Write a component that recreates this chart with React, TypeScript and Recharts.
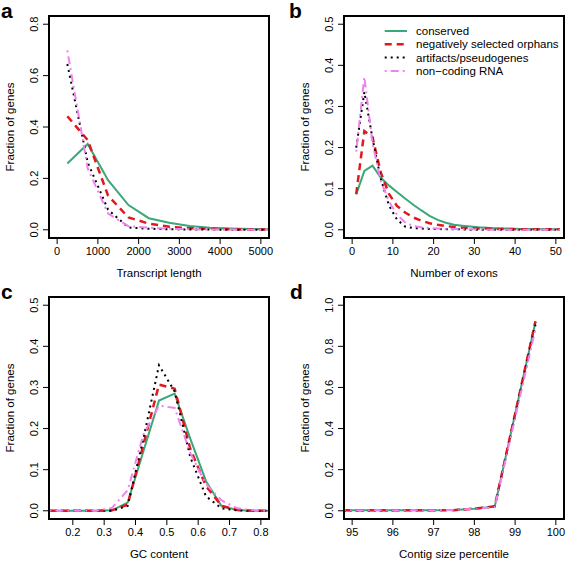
import React from "react"
import { LineChart, Line, XAxis, YAxis, Legend } from "recharts"

const FONT = '"Liberation Sans", Arial, Helvetica, sans-serif'

// series shared by all four panels
const seriesKeys = ["conserved", "orphans", "artifacts", "ncrna"]
const seriesNames = ["conserved", "negatively selected orphans", "artifacts/pseudogenes", "non\u2212coding RNA"]
const seriesColors = ["#3aa878", "#e0191f", "#000000", "#ee82ee"]
const seriesDash = ["", "7 5", "2 4", "2 4 8 4"]
const seriesWidth = [2, 2.5, 2, 2]

// a: transcript length
const lengthX = [250, 750, 1250, 1750, 2250, 2750, 3250, 3750, 4250, 4750, 5250]
const lengthConserved = [0.258, 0.334, 0.193, 0.096, 0.045, 0.027, 0.015, 0.008, 0.005, 0.003, 0.002]
const lengthOrphans = [0.442, 0.349, 0.133, 0.048, 0.024, 0.012, 0.006, 0.004, 0.002, 0.001, 0.001]
const lengthArtifacts = [0.645, 0.262, 0.078, 0.009, 0.004, 0.002, 0.001, 0.001, 0.0, 0.0, 0.0]
const lengthNcrna = [0.698, 0.239, 0.063, 0.014, 0.008, 0.004, 0.002, 0.001, 0.001, 0.0, 0.0]

// b: number of exons
const exonsX = [1, 3, 5, 7, 9, 11, 13, 15, 17, 19, 21, 23, 25, 27, 29, 31, 33, 35, 37, 39, 41, 43, 45, 47, 49, 51]
const exonsConserved = [0.086, 0.143, 0.156, 0.127, 0.108, 0.092, 0.076, 0.061, 0.047, 0.034, 0.024, 0.017, 0.012, 0.01, 0.008, 0.006, 0.005, 0.004, 0.003, 0.003, 0.002, 0.002, 0.002, 0.001, 0.001, 0.001]
const exonsOrphans = [0.087, 0.24, 0.225, 0.14, 0.088, 0.058, 0.042, 0.03, 0.022, 0.016, 0.012, 0.009, 0.007, 0.005, 0.004, 0.003, 0.003, 0.002, 0.002, 0.001, 0.001, 0.001, 0.001, 0.001, 0.001, 0.001]
const exonsArtifacts = [0.2, 0.335, 0.222, 0.125, 0.06, 0.025, 0.008, 0.004, 0.003, 0.002, 0.002, 0.001, 0.001, 0.001, 0.0, 0.0, 0.0, 0.0, 0.0, 0.0, 0.0, 0.0, 0.0, 0.0, 0.0, 0.0]
const exonsNcrna = [0.19, 0.372, 0.21, 0.12, 0.07, 0.037, 0.018, 0.009, 0.006, 0.004, 0.003, 0.002, 0.002, 0.001, 0.001, 0.001, 0.0, 0.0, 0.0, 0.0, 0.0, 0.0, 0.0, 0.0, 0.0, 0.0]

// c: GC content
const gcX = [0.125, 0.175, 0.225, 0.275, 0.325, 0.375, 0.425, 0.475, 0.525, 0.575, 0.625, 0.675, 0.725, 0.775, 0.825]
const gcConserved = [0, 0, 0, 0, 0.001, 0.02, 0.144, 0.268, 0.285, 0.175, 0.072, 0.011, 0.002, 0, 0]
const gcOrphans = [0, 0, 0, 0, 0.001, 0.015, 0.16, 0.307, 0.297, 0.15, 0.06, 0.012, 0.002, 0, 0]
const gcArtifacts = [0, 0, 0, 0, 0, 0.012, 0.175, 0.354, 0.29, 0.13, 0.035, 0.006, 0.001, 0, 0]
const gcNcrna = [0, 0, 0, 0, 0.007, 0.05, 0.185, 0.256, 0.25, 0.14, 0.065, 0.025, 0.006, 0.001, 0]

// d: contig size percentile
const contigX = [94.5, 95, 95.5, 96, 96.5, 97, 97.5, 98, 98.5, 99.5]
const contigConserved = [0.002, 0.002, 0.002, 0.002, 0.003, 0.003, 0.004, 0.01, 0.02, 0.92]
const contigOrphans = [0.002, 0.002, 0.002, 0.002, 0.002, 0.003, 0.003, 0.01, 0.022, 0.922]
const contigArtifacts = [0.001, 0.001, 0.001, 0.002, 0.002, 0.003, 0.004, 0.011, 0.02, 0.905]
const contigNcrna = [0.002, 0.002, 0.002, 0.002, 0.002, 0.003, 0.004, 0.01, 0.018, 0.885]

function rows(xs: number[], a: number[], b: number[], c: number[], d: number[]) {
  return xs.map((x, i) => ({ x, conserved: a[i], orphans: b[i], artifacts: c[i], ncrna: d[i] }))
}

function YTick(props: any) {
  const { x, y, payload } = props
  return (
    <text transform={`translate(${x - 3},${y}) rotate(-90)`} textAnchor="middle" fontSize={11} fontFamily={FONT} fill="#000">
      {Number(payload.value).toFixed(1)}
    </text>
  )
}

function XTitle({ text, cx }: any) {
  return (
    <text x={cx} y={276.5} textAnchor="middle" fontSize={11.5} fontFamily={FONT} fill="#000">
      {text}
    </text>
  )
}

function YTitle({ plotLeft, letter, letterX }: any) {
  return (
    <g>
      <text transform={`translate(${plotLeft - 35.5},127) rotate(-90)`} textAnchor="middle" fontSize={11.5} fontFamily={FONT} fill="#000">
        Fraction of genes
      </text>
      <text x={letterX} y={18} fontSize={21} fontWeight="bold" fontFamily={FONT} fill="#000">
        {letter}
      </text>
    </g>
  )
}

function LegendBox() {
  return (
    <svg width={190} height={60} style={{ display: "block" }}>
      {seriesNames.map((name, i) => {
        const cy = 9 + i * 13.3
        return (
          <g key={name}>
            <line x1={6.7} x2={29} y1={cy} y2={cy} stroke={seriesColors[i]} strokeWidth={seriesWidth[i]} strokeDasharray={seriesDash[i] || undefined} />
            <text x={38} y={cy + 4} fontSize={11.5} fontFamily={FONT} fill="#000">
              {name}
            </text>
          </g>
        )
      })}
    </svg>
  )
}

interface PanelProps {
  left: number
  top: number
  data: any[]
  xDomain: [number, number]
  yDomain: [number, number]
  xTicks: number[]
  yTicks: number[]
  xDigits: number
  xTitle: string
  letter: string
  letterX: number
  axisWidth: number
  rightGap: number
  legend?: boolean
}

function Panel(p: PanelProps) {
  const plotRight = 283 - p.rightGap
  return (
    <div style={{ position: "absolute", left: p.left, top: p.top, width: 283, height: 281 }}>
      <LineChart width={283} height={281} data={p.data} margin={{ top: 16, right: p.rightGap, bottom: 3, left: 0 }}>
        <XAxis
          type="number"
          dataKey="x"
          domain={p.xDomain}
          ticks={p.xTicks}
          interval={0}
          allowDataOverflow
          height={40}
          tickSize={6}
          tickMargin={3}
          axisLine={false}
          stroke="#000"
          tick={{ fill: "#000", fontSize: 11, fontFamily: FONT }}
          tickFormatter={(v: number) => v.toFixed(p.xDigits)}
          label={<XTitle text={p.xTitle} cx={(p.axisWidth + plotRight) / 2} />}
        />
        <YAxis
          type="number"
          domain={p.yDomain}
          ticks={p.yTicks}
          interval={0}
          allowDataOverflow
          width={p.axisWidth}
          tickSize={6}
          tickMargin={2}
          axisLine={false}
          stroke="#000"
          tick={<YTick />}
          label={<YTitle plotLeft={p.axisWidth} letter={p.letter} letterX={p.letterX} />}
        />
        {seriesKeys.map((k, i) => (
          <Line
            key={k}
            type="linear"
            dataKey={k}
            stroke={seriesColors[i]}
            strokeWidth={seriesWidth[i]}
            strokeDasharray={seriesDash[i] || undefined}
            dot={false}
            activeDot={false}
            isAnimationActive={false}
          />
        ))}
        {p.legend && (
          <Legend layout="vertical" align="center" verticalAlign="middle" wrapperStyle={{ left: 95, top: 22, width: 190 }} content={<LegendBox />} />
        )}
      </LineChart>
      {/* plot frame, as R's box() */}
      <div
        style={{
          position: "absolute",
          left: p.axisWidth - 1,
          top: 15,
          width: plotRight - p.axisWidth + 2,
          height: 224,
          border: "2px solid #000",
          boxSizing: "border-box",
          pointerEvents: "none",
        }}
      />
    </div>
  )
}

export default function App() {
  return (
    <div style={{ position: "relative", width: 566, height: 562, background: "#fff", overflow: "hidden" }}>
      <style>{`body{margin:0}`}</style>
      <Panel
        left={0}
        top={0}
        data={rows(lengthX, lengthConserved, lengthOrphans, lengthArtifacts, lengthNcrna)}
        xDomain={[-200, 5200]}
        yDomain={[-0.032, 0.832]}
        xTicks={[0, 1000, 2000, 3000, 4000, 5000]}
        yTicks={[0, 0.2, 0.4, 0.6, 0.8]}
        xDigits={0}
        xTitle="Transcript length"
        letter="a"
        letterX={1}
        axisWidth={49}
        rightGap={14}
      />
      <Panel
        left={283}
        top={0}
        data={rows(exonsX, exonsConserved, exonsOrphans, exonsArtifacts, exonsNcrna)}
        xDomain={[-2, 52]}
        yDomain={[-0.02, 0.52]}
        xTicks={[0, 10, 20, 30, 40, 50]}
        yTicks={[0, 0.1, 0.2, 0.3, 0.4, 0.5]}
        xDigits={0}
        xTitle="Number of exons"
        letter="b"
        letterX={6}
        axisWidth={61}
        rightGap={2}
        legend
      />
      <Panel
        left={0}
        top={281}
        data={rows(gcX, gcConserved, gcOrphans, gcArtifacts, gcNcrna)}
        xDomain={[0.124, 0.826]}
        yDomain={[-0.02, 0.52]}
        xTicks={[0.2, 0.3, 0.4, 0.5, 0.6, 0.7, 0.8]}
        yTicks={[0, 0.1, 0.2, 0.3, 0.4, 0.5]}
        xDigits={1}
        xTitle="GC content"
        letter="c"
        letterX={1}
        axisWidth={49}
        rightGap={14}
      />
      <Panel
        left={283}
        top={281}
        data={rows(contigX, contigConserved, contigOrphans, contigArtifacts, contigNcrna)}
        xDomain={[94.8, 100.2]}
        yDomain={[-0.04, 1.04]}
        xTicks={[95, 96, 97, 98, 99, 100]}
        yTicks={[0, 0.2, 0.4, 0.6, 0.8, 1.0]}
        xDigits={0}
        xTitle="Contig size percentile"
        letter="d"
        letterX={7}
        axisWidth={61}
        rightGap={2}
      />
    </div>
  )
}
